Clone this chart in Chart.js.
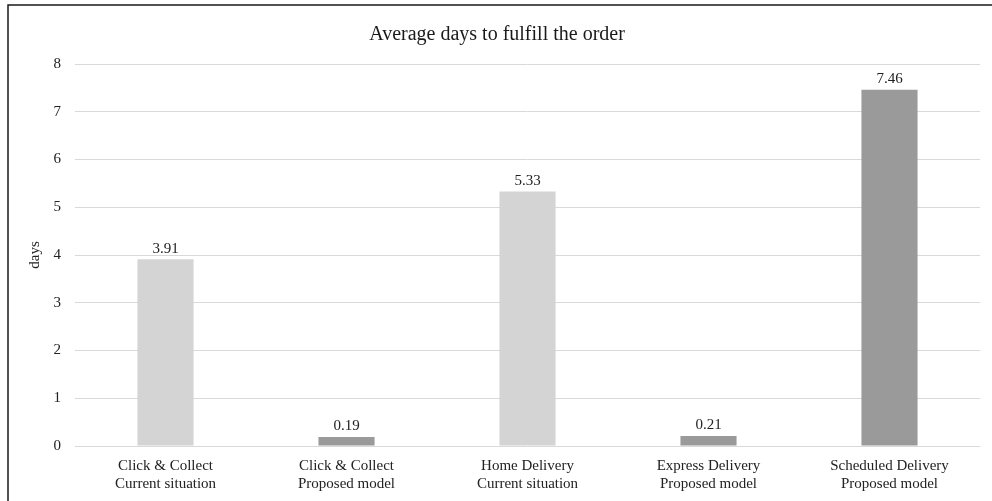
<!DOCTYPE html>
<html>
<head>
<meta charset="utf-8">
<script src="https://cdn.jsdelivr.net/npm/chart.js@4/dist/chart.umd.min.js"></script>
<style>
  html, body { margin: 0; padding: 0; background: #ffffff; }
  #wrap { width: 992px; height: 501px; position: relative; }
</style>
</head>
<body>
<div id="wrap"><canvas id="c" width="992" height="501"></canvas></div>
<script>
// Delivery options and the average number of days each one needs
const categories = [
  ['Click & Collect', 'Current situation'],
  ['Click & Collect', 'Proposed model'],
  ['Home Delivery', 'Current situation'],
  ['Express Delivery', 'Proposed model'],
  ['Scheduled Delivery', 'Proposed model']
];
const avgDays = [3.91, 0.19, 5.33, 0.21, 7.46];
const yTicks = [0, 1, 2, 3, 4, 5, 6, 7, 8];
const chartTitle = 'Average days to fulfill the order';
const yTitle = 'days';

const LIGHT = '#d4d4d4';
const DARK = '#9a9a9a';
const barColors = categories.map(c => c[1] === 'Current situation' ? LIGHT : DARK);
const SERIF = '"Liberation Serif", "Times New Roman", serif';

// Frame, title and value labels
const decor = {
  id: 'decor',
  afterDraw(chart) {
    const ctx = chart.ctx;
    ctx.save();
    ctx.strokeStyle = '#1a1a1a';
    ctx.lineWidth = 1.5;
    ctx.beginPath();
    ctx.moveTo(8, 501);
    ctx.lineTo(8, 5);
    ctx.lineTo(992, 5);
    ctx.stroke();

    // Title centred on the framed area
    ctx.fillStyle = '#1a1a1a';
    ctx.font = '20px ' + SERIF;
    ctx.textAlign = 'center';
    ctx.textBaseline = 'middle';
    ctx.fillText(chartTitle, (8 + chart.width) / 2 - 3, 35);

    const meta = chart.getDatasetMeta(0);
    ctx.font = '15px ' + SERIF;
    ctx.fillStyle = '#222';
    ctx.textBaseline = 'bottom';
    meta.data.forEach((bar, i) => {
      ctx.fillText(avgDays[i].toFixed(2), bar.x, bar.y - 3);
    });
    ctx.restore();
  }
};

new Chart(document.getElementById('c'), {
  type: 'bar',
  data: {
    labels: categories,
    datasets: [{
      data: avgDays,
      backgroundColor: barColors,
      borderWidth: 0,
      barPercentage: 0.31,
      categoryPercentage: 1
    }]
  },
  options: {
    responsive: false,
    animation: false,
    devicePixelRatio: 1,
    layout: { padding: { left: 8, right: 12, top: 64, bottom: 0 } },
    plugins: { legend: { display: false }, tooltip: { enabled: false }, title: { display: false } },
    scales: {
      x: {
        grid: { display: false, drawTicks: false },
        border: { display: false },
        ticks: {
          color: '#222',
          font: { family: SERIF, size: 15, lineHeight: 1.2 },
          padding: 11,
          maxRotation: 0,
          autoSkip: false
        },
        afterFit(scale) { scale.height = 55; }
      },
      y: {
        min: 0,
        max: 8,
        afterBuildTicks(scale) { scale.ticks = yTicks.map(v => ({ value: v })); },
        grid: { color: '#d9d9d9', lineWidth: 1, drawTicks: false },
        border: { display: false },
        ticks: {
          color: '#222',
          font: { family: SERIF, size: 15 },
          padding: 14
        },
        title: {
          display: true,
          text: yTitle,
          color: '#222',
          font: { family: SERIF, size: 15 },
          padding: { top: 18, bottom: 0 }
        },
        afterFit(scale) { scale.width = 67; }
      }
    }
  },
  plugins: [decor]
});
</script>
</body>
</html>
